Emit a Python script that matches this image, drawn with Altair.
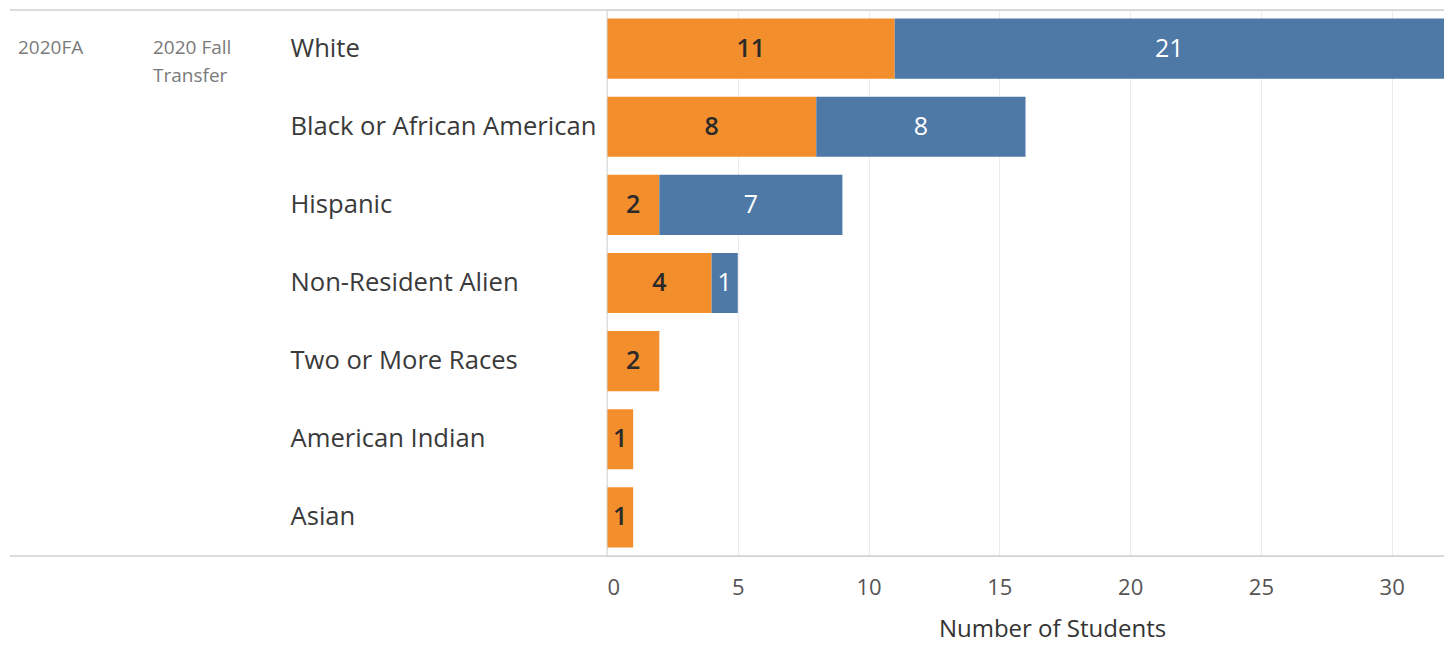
import altair as alt
import pandas as pd

categories = ["White", "Black or African American", "Hispanic", "Non-Resident Alien",
              "Two or More Races", "American Indian", "Asian"]
orange_values = [11, 8, 2, 4, 2, 1, 1]
blue_values = [21, 8, 7, 1, 0, 0, 0]
series_names = ["Segment A", "Segment B"]
x_ticks = [0, 5, 10, 15, 20, 25, 30]
term_label = "2020FA"
cohort_label = "2020 Fall\nTransfer"

rows = []
for c, o, b in zip(categories, orange_values, blue_values):
    rows.append({"category": c, "series": series_names[0], "value": o, "ord": 0})
    rows.append({"category": c, "series": series_names[1], "value": b, "ord": 1})
df = pd.DataFrame(rows)

FONT = "Open Sans"
W, H = 837, 546

base = alt.Chart(df).transform_stack(
    stack="value", groupby=["category"], as_=["x0", "x1"],
    sort=[alt.SortField("ord", order="ascending")]
).transform_calculate(mid="(datum.x0 + datum.x1) / 2")

y_enc = alt.Y("category:N", sort=categories, title=None,
              scale=alt.Scale(paddingInner=0.23, paddingOuter=0.11),
              axis=alt.Axis(labelAlign="left", labelPadding=317, ticks=False, domain=False,
                            labelFontSize=25.6, labelColor="#3a3a3a", labelFont=FONT,
                            labelLimit=400))
x_scale = alt.Scale(domain=[0, 32], nice=False)

bars = base.mark_bar().encode(
    x=alt.X("x0:Q", scale=x_scale, title="Number of Students",
            axis=alt.Axis(values=x_ticks, grid=True, gridColor="#ebebeb", domain=False,
                          ticks=False, labelFontSize=22, labelColor="#555555", labelFont=FONT,
                          labelPadding=21, titleFontSize=24, titleFontWeight="normal",
                          titleColor="#333333", titleFont=FONT, titleX=445, titleY=73,
                          titleBaseline="middle")),
    x2="x1:Q",
    y=y_enc,
    color=alt.Color("series:N", scale=alt.Scale(domain=series_names,
                                                range=["#f28e2b", "#4e79a7"]), legend=None),
)

labels_orange = base.transform_filter("datum.value > 0 && datum.ord == 0").mark_text(
    fontSize=25, font=FONT, fontWeight=600, baseline="middle", align="center", color="#2a2a2a"
).encode(
    x=alt.X("mid:Q", scale=x_scale),
    y=alt.Y("category:N", sort=categories),
    text="value:Q",
)
labels_blue = base.transform_filter("datum.value > 0 && datum.ord == 1").mark_text(
    fontSize=25, font=FONT, baseline="middle", align="center", color="#ffffff"
).encode(
    x=alt.X("mid:Q", scale=x_scale),
    y=alt.Y("category:N", sort=categories),
    text="value:Q",
)

line_df = pd.DataFrame({"k": [0]})
top_rule = alt.Chart(line_df).mark_rule(color="#d0d0d0", strokeWidth=1.5).encode(
    x=alt.value(-597), x2=alt.value(W + 2), y=alt.value(0))
bottom_rule = alt.Chart(line_df).mark_rule(color="#d0d0d0", strokeWidth=1.5).encode(
    x=alt.value(-597), x2=alt.value(W + 2), y=alt.value(H))
zero_rule = alt.Chart(line_df).mark_rule(color="#d6d6d6", strokeWidth=1).encode(
    x=alt.value(0), y=alt.value(0), y2=alt.value(H))

hdr_df = pd.DataFrame({"t": [term_label], "c": [cohort_label]})
term_text = alt.Chart(hdr_df).mark_text(
    align="left", baseline="middle", fontSize=19, font=FONT, color="#7a7a7a"
).encode(x=alt.value(-589), y=alt.value(38), text="t:N")
cohort_text = alt.Chart(hdr_df).mark_text(
    align="left", baseline="middle", fontSize=19, font=FONT, color="#7a7a7a",
    lineBreak="\n", lineHeight=28
).encode(x=alt.value(-454), y=alt.value(38), text="c:N")

chart = alt.layer(bars, labels_orange, labels_blue, zero_rule, top_rule, bottom_rule,
                  term_text, cohort_text).properties(
    width=W, height=H,
    autosize=alt.AutoSizeParams(type="none"),
    padding={"left": 599, "top": 2, "right": 0, "bottom": 86},
).configure_view(stroke=None).configure(background="#ffffff")

chart.save("out.html", embed_options={"renderer": "svg", "actions": False})
